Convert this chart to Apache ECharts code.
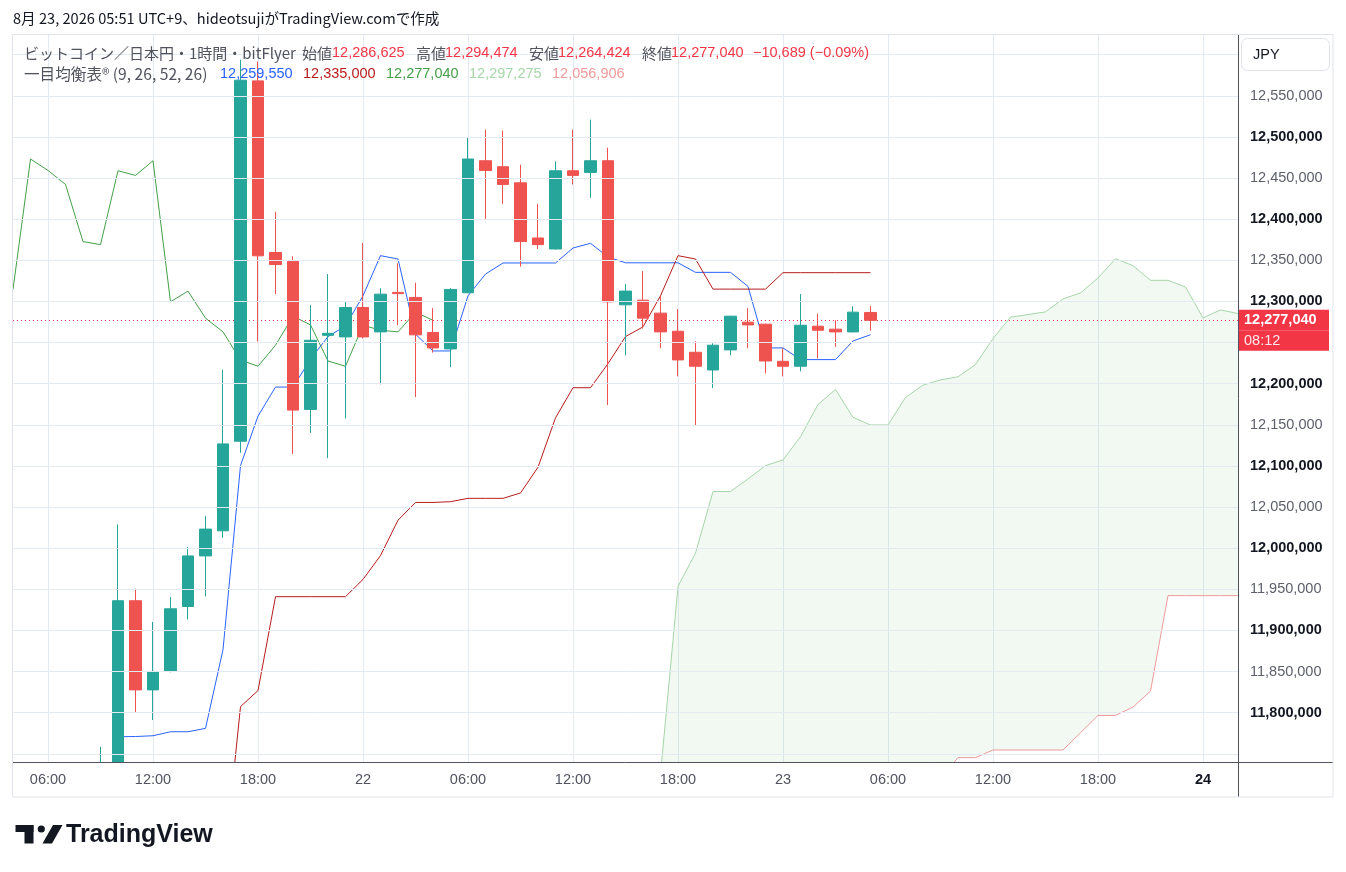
<!DOCTYPE html>
<html>
<head>
<meta charset="utf-8">
<script src="https://cdn.jsdelivr.net/npm/echarts@6/dist/echarts.min.js"></script>
<style>
html,body{margin:0;padding:0;background:#ffffff;}
#chart{width:1346px;height:872px;}
</style>
</head>
<body>
<div id="chart"></div>
<script>
// ---------- categories (hourly bars, "day hh:mm") ----------
const categories = [
  '21 04:00','21 05:00','21 06:00','21 07:00','21 08:00','21 09:00','21 10:00','21 11:00','21 12:00','21 13:00',
  '21 14:00','21 15:00','21 16:00','21 17:00','21 18:00','21 19:00','21 20:00','21 21:00','21 22:00','21 23:00',
  '22 00:00','22 01:00','22 02:00','22 03:00','22 04:00','22 05:00','22 06:00','22 07:00','22 08:00','22 09:00',
  '22 10:00','22 11:00','22 12:00','22 13:00','22 14:00','22 15:00','22 16:00','22 17:00','22 18:00','22 19:00',
  '22 20:00','22 21:00','22 22:00','22 23:00',
  '23 00:00','23 01:00','23 02:00','23 03:00','23 04:00','23 05:00','23 06:00','23 07:00','23 08:00','23 09:00',
  '23 10:00','23 11:00','23 12:00','23 13:00','23 14:00','23 15:00','23 16:00','23 17:00','23 18:00','23 19:00',
  '23 20:00','23 21:00','23 22:00','23 23:00',
  '24 00:00','24 01:00','24 02:00'
];

// ---------- candles: 21 09:00 .. 23 05:00 ----------
const candleStart = 5;
const openVals = [11690000,11720000,11936100,11827700,11850100,11929100,11990600,12021100,12130000,12568200,
  12359500,12348800,12168700,12258800,12256900,12292700,12263000,12311000,12304900,12262200,
  12242300,12310600,12471100,12463800,12444300,12377200,12363800,12458900,12456900,12471100,
  12295900,12301600,12285800,12263800,12238200,12216700,12241100,12274800,12272400,12227200,
  12221200,12269900,12266300,12263000,12286625];
const closeVals = [11720000,11936100,11827700,11850100,11926300,11990600,12023200,12126800,12569000,12355500,
  12344900,12167900,12252800,12261200,12292700,12256900,12308900,12309500,12259400,12243500,
  12314600,12473200,12459300,12442300,12372800,12369100,12458900,12453300,12471100,12299600,
  12312600,12279700,12263000,12228900,12221200,12246800,12282100,12271500,12227600,12221200,
  12271100,12265000,12263000,12287000,12277040];
const lowVals = [11660000,11700000,11800800,11791000,11849000,11913200,11941300,12012600,12116000,12251300,
  12309000,12114600,12140200,12109400,12157700,12255000,12199200,12271100,12183700,12237800,
  12220300,12310000,12400400,12418700,12342300,12363800,12363000,12442300,12426000,12174000,
  12234600,12267100,12243100,12208900,12149600,12194700,12234600,12243100,12212600,12208900,
  12215000,12230900,12244700,12262500,12264424];
const highVals = [11758500,12028900,11950700,11910400,11940500,12001600,12039000,12217100,12594000,12591700,
  12409000,12354900,12295500,12333300,12300400,12371100,12316200,12346300,12322800,12291900,
  12316200,12498800,12508900,12507700,12466300,12418700,12470300,12508900,12521100,12487000,
  12321100,12337000,12306900,12290700,12251600,12249200,12282500,12291900,12273000,12243100,
  12309000,12285000,12277200,12294300,12294474];

// ---------- Ichimoku lines ----------
const tenkanStart = 5;   // 21 09:00
const tenkan = [11600000,11770700,11771000,11771900,11776800,11776800,11780900,11876600,12100400,12160600,
  12195900,12195900,12229700,12257300,12270300,12306900,12355700,12351600,12260200,12239800,
  12239800,12306900,12333300,12346800,12346800,12346800,12346800,12365000,12370700,12354000,
  12347000,12347000,12347000,12347000,12335400,12335400,12335400,12318300,12243500,12243500,
  12229300,12229300,12229300,12252000,12259550];
const kijunStart = 12;   // 21 16:00
const kijun = [11600000,11807300,11826900,11941000,11941000,11941000,11941000,11941000,11962000,11991000,
  12034000,12055600,12055600,12056500,12060600,12060600,12060600,12067100,12098400,12158500,
  12195100,12195100,12224400,12257300,12269100,12306900,12355700,12351600,12315000,12315000,
  12315000,12315000,12335000,12335000,12335000,12335000,12335000,12335000];
const chikouStart = 0;   // 21 04:00
const chikou = [12314600,12473200,12459300,12442300,12372800,12369100,12458900,12453300,12471100,12299600,
  12312600,12279700,12263000,12228900,12221200,12246800,12282100,12271500,12227600,12221200,
  12271100,12265000,12263000,12287000,12277040];
const senkouStart = 37;  // 22 17:00
const senkouA = [11725000,11953600,11994000,12068900,12068900,12084200,12100400,12107300,12135600,12174800,
  12193000,12159100,12149800,12149800,12183300,12198300,12204600,12208400,12223400,12254900,
  12280800,12284100,12287300,12303100,12310400,12328600,12352000,12343500,12325700,12325700,
  12317600,12280000,12289700,12285300];
const senkouB = [11700000,11700000,11700000,11700000,11700000,11700000,11700000,11700000,11700000,11700000,
  11700000,11700000,11700000,11700000,11700000,11700000,11720000,11745300,11745300,11754600,
  11754600,11754600,11754600,11754600,11775600,11796600,11796600,11806800,11826200,11942300,
  11942300,11942300,11942300,11942300];

// ---------- y tick labels ----------
const yLabelValues = [11800000,11850000,11900000,11950000,12000000,12050000,12100000,12150000,12200000,
  12300000,12350000,12400000,12450000,12500000,12550000];

// ---------- legend texts ----------
const legendValues = { tenkan: 12259550, kijun: 12335000, chikou: 12277040, spanA: 12297275, spanB: 12056906 };
const changeText = '\u221210,689 (\u22120.09%)';
const countdown = '08:12';

// ---------- helpers ----------
const N = categories.length;
function place(arr, start) {
  const out = new Array(N).fill('-');
  arr.forEach((v, k) => { out[start + k] = v; });
  return out;
}
const fmt = v => v.toLocaleString('en-US');
const FONT = "'Liberation Sans','Noto Sans CJK JP',sans-serif";
const JFONT = "'Noto Sans CJK JP','Liberation Sans',sans-serif";
const UP = '#26a69a', DOWN = '#ef5350', RED_TXT = '#f23645';
const GRID = '#e3eaf1';
const GRAY = '#50535e';
const T = 'rgba(0,0,0,0)';

const candleData = openVals.map((o, k) => [candleStart + k, o, closeVals[k], lowVals[k], highVals[k]]);
const cloudBase = place(senkouB, senkouStart);
const cloudDiff = place(senkouA.map((a, k) => a - senkouB[k]), senkouStart);
const lastClose = closeVals[closeVals.length - 1];
const isMajor = (val) => { const t = val.split(' ')[1]; return t === '00:00' || t === '06:00' || t === '12:00' || t === '18:00'; };

function txt(x, y, s, color, font) {
  return {
    type: 'text', x: x, y: y, silent: true, z: 50,
    style: { text: s, fill: color, font: font || ('14.5px ' + FONT), verticalAlign: 'middle', align: 'left' }
  };
}
const JLEG = '15px ' + JFONT;

const row1 = 53, row2 = 74;
const graphics = [
  // white cover below the plot area (hides candle parts below the axis)
  { type: 'rect', silent: true, z: 8, shape: { x: 0, y: 763, width: 1238, height: 75 }, style: { fill: '#ffffff' } },
  { type: 'rect', silent: true, z: 60, shape: { x: 12.5, y: 34.5, width: 1320.5, height: 762.5 },
    style: { fill: 'none', stroke: '#e0e3eb', lineWidth: 1 } },
  { type: 'line', silent: true, z: 50, shape: { x1: 1238, y1: 762.5, x2: 1333, y2: 762.5 }, style: { stroke: GRAY, lineWidth: 1 } },
  { type: 'line', silent: true, z: 50, shape: { x1: 1238.5, y1: 762, x2: 1238.5, y2: 797 }, style: { stroke: GRAY, lineWidth: 1 } },
  // title
  txt(13, 18, '8月 23, 2026 05:51 UTC+9、hideotsujiがTradingView.comで作成', '#131722', '14.6px ' + JFONT),
  // legend row 1
  txt(24, row1, 'ビットコイン／日本円・1時間・bitFlyer', GRAY, JLEG),
  txt(302, row1, '始値', GRAY, JLEG),
  txt(332, row1, fmt(openVals[44]), RED_TXT),
  txt(416, row1, '高値', GRAY, JLEG),
  txt(445, row1, fmt(highVals[44]), RED_TXT),
  txt(529, row1, '安値', GRAY, JLEG),
  txt(558, row1, fmt(lowVals[44]), RED_TXT),
  txt(642, row1, '終値', GRAY, JLEG),
  txt(671, row1, fmt(lastClose), RED_TXT),
  txt(753, row1, changeText, RED_TXT),
  // legend row 2
  txt(24, row2, '一目均衡表® (9, 26, 52, 26)', GRAY, '15.6px ' + JFONT),
  txt(220, row2, fmt(legendValues.tenkan), '#2962ff'),
  txt(303, row2, fmt(legendValues.kijun), '#b71c1c'),
  txt(386, row2, fmt(legendValues.chikou), '#43a047'),
  txt(469, row2, fmt(legendValues.spanA), '#a5d6a7'),
  txt(552, row2, fmt(legendValues.spanB), '#ef9a9a'),
  // currency box
  { type: 'rect', silent: true, z: 50, shape: { x: 1241.5, y: 38.5, width: 88, height: 32, r: 6 },
    style: { fill: '#ffffff', stroke: '#e0e3eb', lineWidth: 1 } },
  txt(1253, 55, 'JPY', '#131722'),
  // TradingView logo
  { type: 'rect', silent: true, z: 50, shape: { x: 15.5, y: 825, width: 18, height: 7 }, style: { fill: '#131722' } },
  { type: 'rect', silent: true, z: 50, shape: { x: 24.5, y: 825, width: 9, height: 18.5 }, style: { fill: '#131722' } },
  { type: 'circle', silent: true, z: 50, shape: { cx: 41.3, cy: 829, r: 3.6 }, style: { fill: '#131722' } },
  { type: 'polygon', silent: true, z: 50, shape: { points: [[42.5, 843.5], [52, 843.5], [62.5, 825], [53, 825]] }, style: { fill: '#131722' } },
  txt(66, 835, 'TradingView', '#131722', 'bold 25px ' + FONT)
];

const xLabelFormatter = (val) => {
  const p = val.split(' ');
  if (p[1] === '00:00') return p[0] === '24' ? '{b|' + p[0] + '}' : p[0];
  return p[1];
};

const chart = echarts.init(document.getElementById('chart'));
const option = {
  animation: false,
  backgroundColor: '#ffffff',
  grid: { left: 13, top: 35, width: 1225, height: 727, containLabel: false, outerBoundsMode: 'none' },
  xAxis: [
    { // grid lines only (drawn under the series)
      type: 'category', data: categories, boundaryGap: false, z: 0,
      axisLine: { show: false }, axisTick: { show: false }, axisLabel: { show: false },
      splitLine: { show: true, interval: (idx, val) => isMajor(val), lineStyle: { color: GRID, width: 1 } }
    },
    { // axis line and labels (drawn over the white cover)
      type: 'category', data: categories, boundaryGap: false, position: 'bottom', z: 10,
      axisLine: { show: true, lineStyle: { color: GRAY, width: 1 } },
      axisTick: { show: false },
      splitLine: { show: false },
      axisLabel: {
        interval: (idx, val) => isMajor(val),
        margin: 11, color: GRAY, fontSize: 14.5, fontFamily: FONT,
        formatter: xLabelFormatter,
        rich: { b: { fontWeight: 'bold', color: '#131722', fontSize: 14.5, fontFamily: FONT } }
      }
    }
  ],
  yAxis: {
    type: 'value', position: 'right', min: 11740000, max: 12624000, interval: 10000, scale: true, z: 10,
    axisLine: { show: true, lineStyle: { color: GRAY, width: 1 } },
    axisTick: { show: false },
    axisLabel: {
      margin: 12, fontSize: 14.5, fontFamily: FONT, color: GRAY,
      formatter: (v) => {
        if (yLabelValues.indexOf(v) < 0) return '';
        return (v % 100000 === 0 ? '{b|' : '{n|') + fmt(v) + '}';
      },
      rich: {
        n: { color: '#5d606b', fontSize: 14.5, fontFamily: FONT },
        b: { color: '#131722', fontSize: 14.5, fontFamily: FONT, fontWeight: 'bold' }
      }
    },
    splitLine: { show: true, lineStyle: { width: 1, color: [T, GRID, T, T, T] } }
  },
  series: [
    { name: 'kumoBase', type: 'line', data: cloudBase, stack: 'kumo', symbol: 'none', silent: true, z: 1,
      lineStyle: { opacity: 0, width: 0 } },
    { name: 'senkouA', type: 'line', data: cloudDiff, stack: 'kumo', symbol: 'none', silent: true, z: 1,
      lineStyle: { color: '#a5d6a7', width: 1 }, areaStyle: { color: 'rgba(67,160,71,0.1)' } },
    { name: 'senkouB', type: 'line', data: place(senkouB, senkouStart), symbol: 'none', silent: true, z: 2,
      lineStyle: { color: '#ef9a9a', width: 1 } },
    { name: 'chikou', type: 'line', data: place(chikou, chikouStart), symbol: 'none', silent: true, z: 3,
      lineStyle: { color: '#43a047', width: 1 } },
    { name: 'tenkan', type: 'line', data: place(tenkan, tenkanStart), symbol: 'none', silent: true, z: 3,
      lineStyle: { color: '#2962ff', width: 1 } },
    { name: 'kijun', type: 'line', data: place(kijun, kijunStart), symbol: 'none', silent: true, z: 3,
      lineStyle: { color: '#b71c1c', width: 1 } },
    { name: 'candles', type: 'candlestick', data: candleData, encode: { x: 0, y: [1, 2, 3, 4] },
      barWidth: 12, z: 5, silent: true, clip: true,
      itemStyle: { color: UP, color0: DOWN, borderColor: UP, borderColor0: DOWN, borderWidth: 1 },
      markLine: {
        silent: true, symbol: ['none', 'none'], animation: false,
        lineStyle: { color: RED_TXT, type: [1, 3], width: 1 },
        label: {
          show: true, position: 'end', distance: 0,
          formatter: '{g| }\n{p|' + fmt(lastClose) + '}\n{t|' + countdown + '}',
          rich: {
            g: { height: 20, width: 79, padding: [0, 6, 0, 6], fontSize: 14 },
            p: { height: 21, width: 79, padding: [0, 6, 0, 6], backgroundColor: RED_TXT, color: '#ffffff',
                 fontSize: 14.5, fontWeight: 'bold', fontFamily: FONT },
            t: { height: 20, width: 79, padding: [0, 6, 0, 6], backgroundColor: RED_TXT, color: 'rgba(255,255,255,0.88)',
                 fontSize: 14.5, fontFamily: FONT }
          }
        },
        data: [{ yAxis: lastClose }]
      }
    }
  ],
  graphic: graphics
};
chart.setOption(option);
</script>
</body>
</html>
